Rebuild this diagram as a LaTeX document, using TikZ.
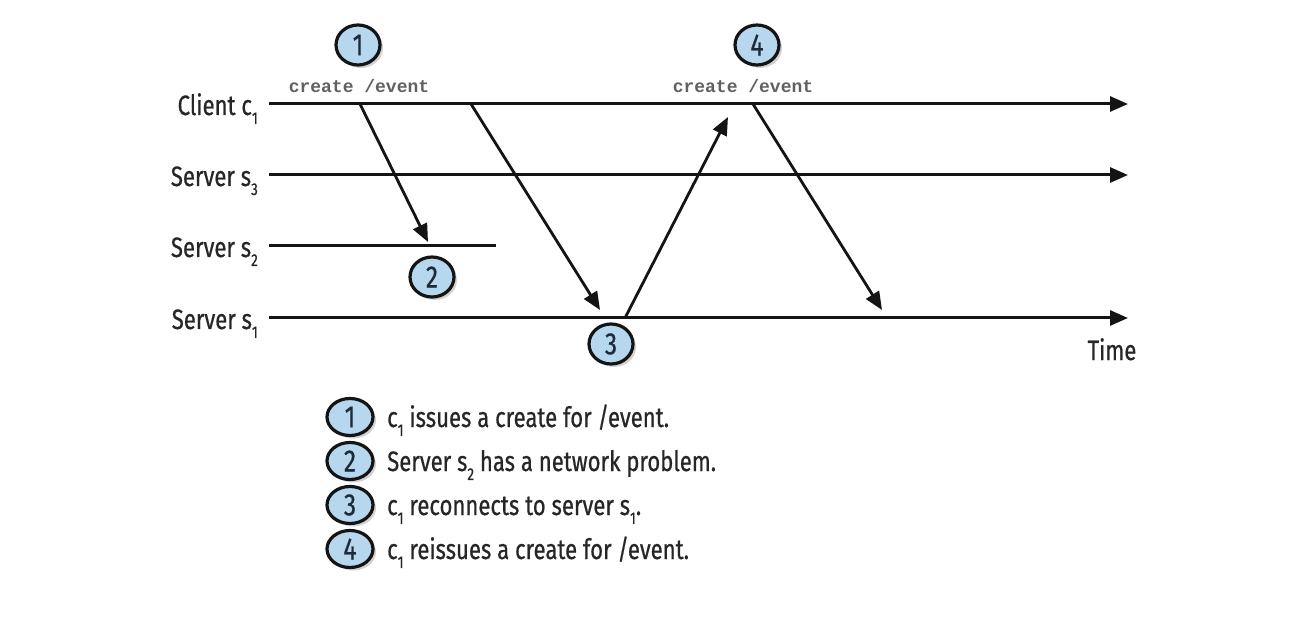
\documentclass[tikz,border=0pt]{standalone}
\usepackage{fontspec}
\setmainfont[FakeStretch=0.79,FakeBold=0.6]{Fira Sans}
\newfontfamily\monof{Liberation Mono}
\usetikzlibrary{arrows.meta,shapes.geometric,shadows}
\definecolor{bubble}{HTML}{B7D7EF}
\definecolor{ink}{HTML}{141414}
\definecolor{digit}{HTML}{1C2A3A}
\newcommand{\lowsub}[1]{\raisebox{-0.32em}{\fontsize{17}{18}\selectfont #1}}
\begin{document}
\begin{tikzpicture}[x=1pt,y=-1pt,
  life/.style={line width=3pt, draw=ink, -{Triangle[length=18pt,width=15pt]}},
  deadline/.style={line width=3pt, draw=ink},
  msg/.style={line width=2.8pt, draw=ink, -{Triangle[length=18pt,width=15pt]}},
  lbl/.style={font=\fontsize{28}{30}\selectfont, text=black!85, inner sep=0pt},
  cmd/.style={font=\monof\bfseries\fontsize{18}{20}\selectfont, text=black!62, inner sep=0pt},
  bub/.style={ellipse, draw=ink, line width=3.2pt, fill=bubble, minimum width=44pt, minimum height=40pt, inner sep=0pt, font=\fontsize{31}{32}\selectfont, text=digit, drop shadow={shadow xshift=3pt, shadow yshift=-3pt, opacity=0.35}},
  lbub/.style={bub, minimum width=46pt, minimum height=37pt}
]
\useasboundingbox[fill=white] (0,0) rectangle (1312,636);

% lifeline labels
\node[lbl, anchor=base east] (lc1) at (258,115) {Client c\lowsub{1}};
\node[lbl, anchor=base east] (ls3) at (258,186) {Server s\lowsub{3}};
\node[lbl, anchor=base east] (ls2) at (258,257) {Server s\lowsub{2}};
\node[lbl, anchor=base east] (ls1) at (258,329) {Server s\lowsub{1}};
\node[lbl, anchor=base] (time) at (1112,360) {Time};

% lifeline end points
\coordinate (c1a) at (269,104); \coordinate (c1b) at (1128,104);
\coordinate (s3a) at (269,175); \coordinate (s3b) at (1128,175);
\coordinate (s2a) at (269,246); \coordinate (s2b) at (496,246);
\coordinate (s1a) at (269,318); \coordinate (s1b) at (1128,318);

\draw[life] (c1a) -- (c1b);
\draw[life] (s3a) -- (s3b);
\draw[deadline] (s2a) -- (s2b);
\draw[life] (s1a) -- (s1b);

% message end points
\coordinate (m1a) at (360,104); \coordinate (m1b) at (428,242);
\coordinate (m2a) at (471,104); \coordinate (m2b) at (600,310);
\coordinate (m3a) at (625,318); \coordinate (m3b) at (728,117);
\coordinate (m4a) at (753,104); \coordinate (m4b) at (882,310);

\draw[msg] (m1a) -- (m1b);
\draw[msg] (m2a) -- (m2b);
\draw[msg] (m3a) -- (m3b);
\draw[msg] (m4a) -- (m4b);

% command labels
\node[cmd, anchor=base] (cmd1) at (359,93) {create /event};
\node[cmd, anchor=base] (cmd2) at (743,93) {create /event};

% bubbles
\node[bub] (b1) at (358,45) {1};
\node[bub] (b2) at (432,277) {2};
\node[bub] (b3) at (611,344) {3};
\node[bub] (b4) at (757,45) {4};

% legend
\node[lbub] (k1) at (350,417) {1};
\node[lbub] (k2) at (350,461) {2};
\node[lbub] (k3) at (350,505) {3};
\node[lbub] (k4) at (350,549) {4};
\node[lbl, anchor=base west] (t1) at (387,427) {c\lowsub{1} issues a create for /event.};
\node[lbl, anchor=base west] (t2) at (387,471) {Server s\lowsub{2} has a network problem.};
\node[lbl, anchor=base west] (t3) at (387,515) {c\lowsub{1} reconnects to server s\lowsub{1}.};
\node[lbl, anchor=base west] (t4) at (387,559) {c\lowsub{1} reissues a create for /event.};
\end{tikzpicture}
\end{document}
